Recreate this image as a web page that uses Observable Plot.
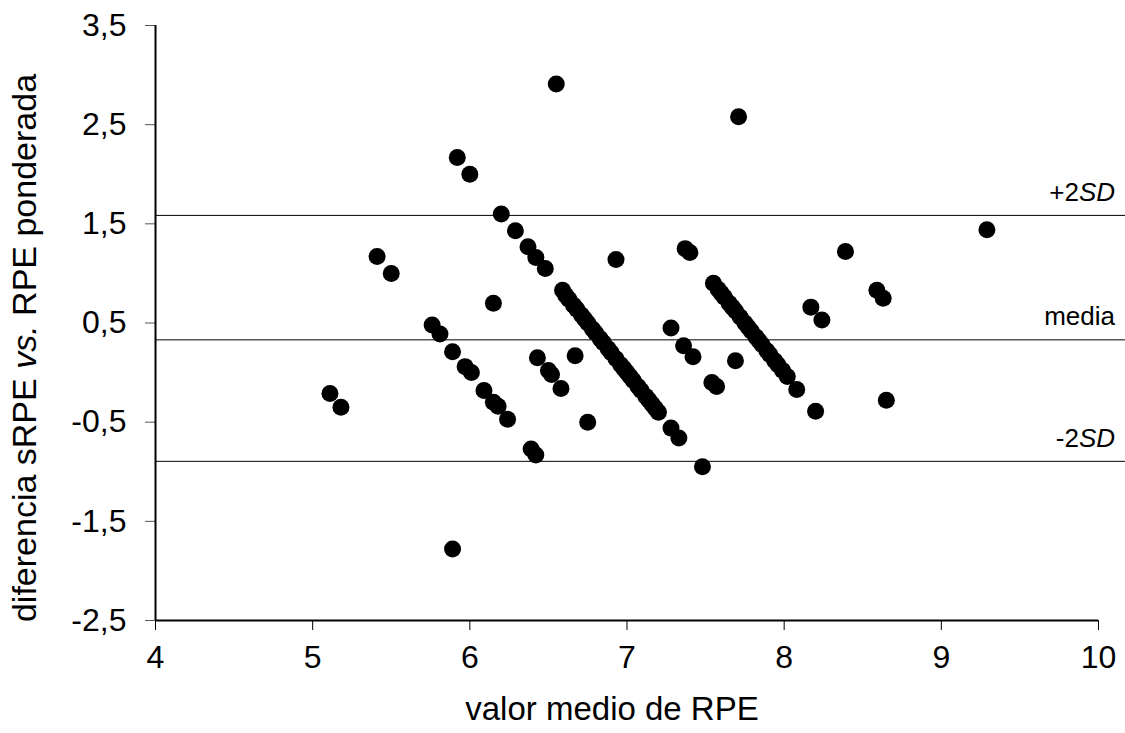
<!DOCTYPE html>
<html><head><meta charset="utf-8">
<script src="https://cdn.jsdelivr.net/npm/d3@7"></script>
<script src="https://cdn.jsdelivr.net/npm/@observablehq/plot@0.6"></script>
<style>
body{margin:0;background:#fff;}
svg{display:block;font-family:Arial,"Liberation Sans",sans-serif;}
</style>
</head><body><div id="chart"></div>
<script>
// valor medio de RPE (x) and diferencia sRPE vs. RPE ponderada (y)
const meanRPE = [
  5.11,5.18,5.41,5.50,5.76,5.81,5.89,5.97,6.01,6.09,6.15,6.18,6.24,6.39,6.42,5.89,6.15,
  5.92,6.00,6.20,6.29,6.37,6.42,6.48,6.55,6.43,6.50,6.52,6.58,6.67,6.75,6.93,
  7.28,7.36,7.42,7.37,7.40,7.48,7.54,7.57,7.69,7.71,8.08,8.20,8.65,8.17,8.24,8.39,8.59,8.63,9.29,
  6.59,6.61,6.63,6.66,6.68,6.71,6.73,6.75,6.78,6.80,6.83,6.85,6.88,6.90,6.93,6.96,6.98,7.00,
  7.02,7.04,7.07,7.09,7.12,7.14,7.16,7.18,7.20,7.28,7.33,
  7.55,7.58,7.60,7.62,7.65,7.67,7.69,7.72,7.75,7.77,7.79,7.82,7.84,7.86,7.89,7.91,7.94,7.96,7.99,8.02
];
const diffRPE = [
  -0.21,-0.35,1.17,1.00,0.48,0.39,0.21,0.06,0.00,-0.18,-0.30,-0.34,-0.47,-0.77,-0.83,-1.78,0.70,
  2.17,2.00,1.60,1.43,1.27,1.16,1.05,2.91,0.15,0.02,-0.02,-0.16,0.17,-0.50,1.14,
  0.45,0.27,0.16,1.25,1.21,-0.95,-0.10,-0.14,0.12,2.58,-0.17,-0.39,-0.28,0.66,0.53,1.22,0.83,0.75,1.44,
  0.83,0.78,0.74,0.68,0.64,0.58,0.54,0.50,0.44,0.40,0.34,0.30,0.24,0.20,0.14,0.08,0.04,0.00,
  -0.04,-0.08,-0.14,-0.18,-0.24,-0.28,-0.32,-0.36,-0.40,-0.56,-0.66,
  0.90,0.84,0.80,0.76,0.70,0.66,0.62,0.56,0.50,0.46,0.42,0.36,0.32,0.28,0.22,0.18,0.12,0.08,0.02,-0.04
];
const refValues = [1.585, 0.33, -0.895];
const refPrefix = ["+2", "media", "-2"];
const refItalic = ["SD", "", "SD"];
const xTicks = [4,5,6,7,8,9,10];
const yTicks = [-2.5,-1.5,-0.5,0.5,1.5,2.5,3.5];

const points = meanRPE.map((m, i) => ({x: m, y: diffRPE[i]}));
const fmtY = d => String(d).replace(".", ",");

const chart = Plot.plot({
  width: 1125, height: 733,
  marginLeft: 155, marginRight: 0, marginTop: 25, marginBottom: 113,
  style: {fontSize: "32px", fontFamily: "Arial, 'Liberation Sans', sans-serif", color: "#000", background: "#fff", overflow: "visible"},
  x: {domain: [4, 10], range: [155, 1098]},
  y: {domain: [-2.5, 3.5], range: [620, 25]},
  marks: [
    Plot.ruleY(refValues, {stroke: "#000", strokeWidth: 1}),
    Plot.axisX({ticks: xTicks, tickFormat: d => String(d), tickSize: 10, tickPadding: 15, label: null, stroke: "#000"}),
    Plot.axisY({ticks: yTicks, tickFormat: fmtY, tickSize: 10, tickPadding: 19, label: null, stroke: "#555"}),
    Plot.ruleX([4], {y1: -2.5, y2: 3.5, stroke: "#000", strokeWidth: 2}),
    Plot.ruleY([-2.5], {x1: 4, x2: 10, stroke: "#000", strokeWidth: 2}),
    Plot.dot(points, {x: "x", y: "y", r: 8.5, fill: "#000"})
  ]
});
document.getElementById("chart").appendChild(chart);

const svg = d3.select(chart);
const ys = chart.scale("y");

// y axis label
const yl = svg.append("text")
  .attr("transform", "translate(36,348) rotate(-90)")
  .attr("text-anchor", "middle")
  .attr("font-size", 34)
  .attr("fill", "#000");
yl.append("tspan").text("diferencia sRPE ");
yl.append("tspan").attr("font-style", "italic").text("vs.");
yl.append("tspan").text(" RPE ponderada");

// x axis label
svg.append("text")
  .attr("x", 612).attr("y", 720)
  .attr("text-anchor", "middle")
  .attr("font-size", 33)
  .attr("fill", "#000")
  .text("valor medio de RPE");

// reference line labels
refValues.forEach((v, i) => {
  const t = svg.append("text")
    .attr("x", 1115).attr("y", ys.apply(v) - 14)
    .attr("text-anchor", "end")
    .attr("font-size", 26)
    .attr("fill", "#000");
  t.append("tspan").text(refPrefix[i]);
  if (refItalic[i]) t.append("tspan").attr("font-style", "italic").text(refItalic[i]);
});
</script>
</body></html>
